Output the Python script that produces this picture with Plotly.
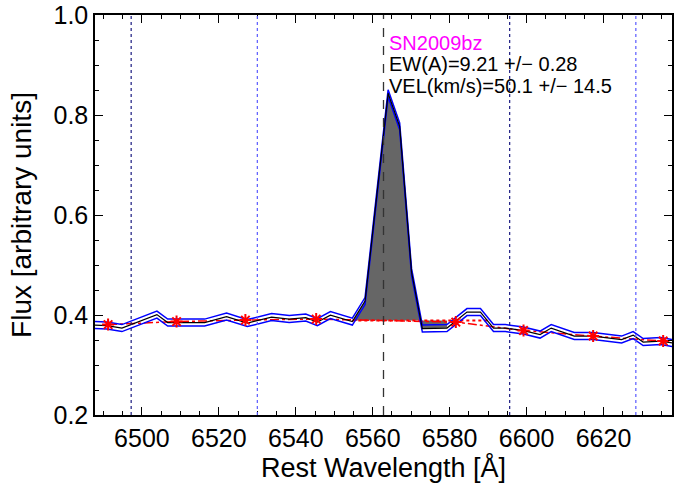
import plotly.graph_objects as go

# Spectrum vertices (rest wavelength in Angstrom, normalised flux)
wave = [6487.8, 6490.9, 6494.8, 6503.9, 6506.7, 6516.3, 6522.0, 6527.4, 6533.7,
        6538.3, 6542.6, 6545.6, 6549.0, 6554.7, 6558.0, 6564.0, 6567.0, 6570.1,
        6572.9, 6579.3, 6584.5, 6588.0, 6591.4, 6594.5, 6599.2, 6603.5, 6606.4,
        6612.4, 6617.3, 6624.7, 6627.7, 6630.3, 6634.9, 6638.0]
flux = [0.380, 0.379, 0.374, 0.401, 0.385, 0.385, 0.397, 0.384, 0.396,
        0.392, 0.395, 0.386, 0.400, 0.387, 0.428, 0.844, 0.778, 0.486,
        0.373, 0.374, 0.406, 0.406, 0.374, 0.374, 0.369, 0.361, 0.374,
        0.358, 0.358, 0.351, 0.360, 0.346, 0.348, 0.344]
err = [0.007] * len(wave)

# Continuum points (red asterisks)
cont_wave = [6491.2, 6509.0, 6526.9, 6545.3, 6581.6, 6599.2, 6617.3, 6635.5]
cont_flux = [0.381, 0.387, 0.390, 0.392, 0.386, 0.369, 0.358, 0.348]

# Continuum level across the line and integration window
line_cont = 0.389
line_lo, line_hi = 6554.7, 6579.3
line_center = 6562.8
vel_lines = [6497.2, 6530.0, 6595.6, 6628.4]
vel_colors = ["#1a1a80", "#5a5aff", "#1a1a80", "#5a5aff"]

name = "SN2009bz"
ew_text = "EW(A)=9.21 +/\u2212 0.28"
vel_text = "VEL(km/s)=50.1 +/\u2212 14.5"

fig = go.Figure()

# grey filled emission region
fx = [w for w in wave if line_lo <= w <= line_hi]
fy = [f for w, f in zip(wave, flux) if line_lo <= w <= line_hi]
poly_x = fx + [fx[-1], fx[0]]
poly_y = fy + [line_cont, line_cont]
fig.add_trace(go.Scatter(x=poly_x, y=poly_y, fill="toself", fillcolor="#666666",
                         line=dict(width=0), mode="lines", hoverinfo="skip"))

# red continuum
fig.add_trace(go.Scatter(x=cont_wave, y=cont_flux, mode="lines",
                         line=dict(color="red", width=1.5, dash="dashdot")))
fig.add_trace(go.Scatter(x=[line_lo, 6590], y=[line_cont, line_cont], mode="lines",
                         line=dict(color="red", width=2, dash="dot")))

# error band
up = [f + e for f, e in zip(flux, err)]
lo = [f - e for f, e in zip(flux, err)]
fig.add_trace(go.Scatter(x=wave, y=up, mode="lines", line=dict(color="blue", width=1.5)))
fig.add_trace(go.Scatter(x=wave, y=lo, mode="lines", line=dict(color="blue", width=1.5)))
fig.add_trace(go.Scatter(x=wave, y=flux, mode="lines", line=dict(color="black", width=1.2)))

fig.add_trace(go.Scatter(x=cont_wave, y=cont_flux, mode="markers",
                         marker=dict(symbol="asterisk-open", size=10, color="red",
                                     line=dict(color="red", width=2))))

# vertical reference lines
for v, c in zip(vel_lines, vel_colors):
    fig.add_shape(type="line", x0=v, x1=v, y0=0, y1=1, yref="paper",
                  line=dict(color=c, width=1.2, dash="dot"))
fig.add_shape(type="line", x0=line_center, x1=line_center, y0=0, y1=1, yref="paper",
              line=dict(color="#333333", width=1.3, dash="dash"))

font = "Liberation Sans, Arial, sans-serif"
for yv, txt, col in [(0.945, name, "magenta"), (0.902, ew_text, "black"),
                     (0.859, vel_text, "black")]:
    fig.add_annotation(x=line_center, y=yv, text=txt, showarrow=False, xanchor="left",
                       yanchor="middle", xshift=4, borderpad=0,
                       font=dict(color=col, size=20, family=font))

axis_common = dict(showline=True, linecolor="black", linewidth=1.5, mirror="ticks",
                   ticks="inside", ticklen=8, tickcolor="black", tickwidth=1,
                   showgrid=False, zeroline=False, ticklabeloverflow="allow",
                   tickfont=dict(size=25, family=font, color="black"))
fig.update_xaxes(range=[6487.8, 6637.8], dtick=20, tick0=6500,
                 minor=dict(dtick=5, ticks="inside", ticklen=4, tickcolor="black"),
                 title=dict(text="Rest Wavelength [Å]", font=dict(size=27, family=font, color="black"),
                            standoff=3),
                 **axis_common)
fig.update_yaxes(range=[0.2, 1.0008], tickvals=[0.2, 0.4, 0.6, 0.8, 1.0],
                 ticktext=["0.2", "0.4", "0.6", "0.8", "1.0"],
                 minor=dict(dtick=0.05, tick0=0.2, ticks="inside", ticklen=4, tickcolor="black"),
                 title=dict(text="Flux [arbitrary units]", font=dict(size=28, family=font, color="black"),
                            standoff=14),
                 **axis_common)

fig.update_layout(width=675, height=487, margin=dict(l=95, r=1, t=9, b=72),
                  plot_bgcolor="white", paper_bgcolor="white", showlegend=False)

fig.write_html("out.html")
